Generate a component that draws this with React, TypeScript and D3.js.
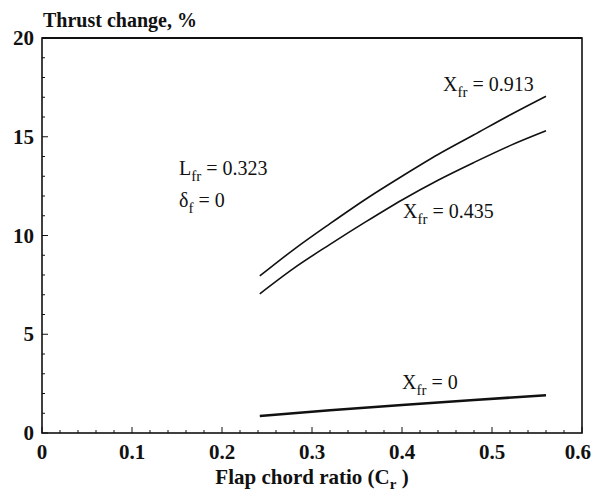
import React from "react";
import * as d3 from "d3";

const upperX = [0.242, 0.28, 0.32, 0.36, 0.40, 0.44, 0.48, 0.52, 0.56];
const upperY = [7.95, 9.3, 10.6, 11.85, 13.0, 14.1, 15.1, 16.1, 17.05];
const middleX = [0.242, 0.28, 0.32, 0.36, 0.40, 0.44, 0.48, 0.52, 0.56];
const middleY = [7.05, 8.35, 9.55, 10.7, 11.8, 12.8, 13.7, 14.55, 15.3];
const lowerX = [0.242, 0.32, 0.40, 0.48, 0.56];
const lowerY = [0.86, 1.15, 1.42, 1.67, 1.91];
const xTicks = [0, 0.1, 0.2, 0.3, 0.4, 0.5, 0.6];
const yTicks = [0, 5, 10, 15, 20];

const W = 593, H = 498;
const left = 42, right = 582, top = 38, bottom = 433;

export default function App() {
  const x = d3.scaleLinear().domain([0, 0.6]).range([left, right]);
  const y = d3.scaleLinear().domain([0, 20]).range([bottom, top]);
  const line = d3.line<[number, number]>().x(d => x(d[0])).y(d => y(d[1])).curve(d3.curveMonotoneX);
  const mk = (xs: number[], ys: number[]) => xs.map((v, i) => [v, ys[i]] as [number, number]);
  const xMinor = d3.range(0, 61, 2).map(v => v / 100);
  const yMinor = d3.range(0, 21, 1);
  const serif = "'Liberation Serif', 'Times New Roman', serif";
  const ann = 20, sub = 15;
  return (
    <svg width={W} height={H} style={{ position: "absolute", left: 0, top: 0, background: "#fff" }} fontFamily={serif}>
      <rect x={0} y={0} width={W} height={H} fill="#fff" />
      <rect x={left} y={top} width={right - left} height={bottom - top} fill="none" stroke="#111" strokeWidth={1.6} />
      <line x1={left} x2={right} y1={top} y2={top} stroke="#111" strokeWidth={2} />
      {xMinor.map((v, i) => (
        <line key={"xm" + i} x1={x(v)} x2={x(v)} y1={bottom} y2={bottom - (i % 5 === 0 ? 6 : 3)} stroke="#111" strokeWidth={1} />
      ))}
      {yMinor.map((v, i) => (
        <line key={"ym" + i} x1={left} x2={left + (i % 5 === 0 ? 6 : 3)} y1={y(v)} y2={y(v)} stroke="#111" strokeWidth={1} />
      ))}
      {xTicks.map((v, i) => {
        const last = i === xTicks.length - 1;
        return (
          <text key={"xt" + v} x={last ? W - 2 : x(v)} y={459} textAnchor={last ? "end" : "middle"} fontWeight="bold" fontSize={21} fill="#111">{v === 0 ? "0" : v.toFixed(1)}</text>
        );
      })}
      {yTicks.map(v => (
        <text key={"yt" + v} x={34} y={y(v) + 7} textAnchor="end" fontWeight="bold" fontSize={21} fill="#111">{v}</text>
      ))}
      <text x={43} y={27} fontWeight="bold" fontSize={20} fill="#111">Thrust change, %</text>
      <text x={312} y={484} textAnchor="middle" fontWeight="bold" fontSize={21} fill="#111">
        Flap chord ratio (C<tspan fontSize={15} dy={5}>r</tspan><tspan dy={-5}> )</tspan>
      </text>
      <path d={line(mk(upperX, upperY)) || ""} fill="none" stroke="#111" strokeWidth={1.6} />
      <path d={line(mk(middleX, middleY)) || ""} fill="none" stroke="#111" strokeWidth={1.6} />
      <path d={line(mk(lowerX, lowerY)) || ""} fill="none" stroke="#111" strokeWidth={2.6} />
      <text x={443} y={91} fontSize={ann} fill="#111">X<tspan fontSize={sub} dy={6}>fr</tspan><tspan dy={-6}> = 0.913</tspan></text>
      <text x={403} y={218} fontSize={ann} fill="#111">X<tspan fontSize={sub} dy={6}>fr</tspan><tspan dy={-6}> = 0.435</tspan></text>
      <text x={179} y={175} fontSize={ann} fill="#111">L<tspan fontSize={sub} dy={6}>fr</tspan><tspan dy={-6}> = 0.323</tspan></text>
      <text x={179} y={207} fontSize={ann} fill="#111">δ<tspan fontSize={sub} dy={6}>f</tspan><tspan dy={-6}> = 0</tspan></text>
      <text x={402} y={389} fontSize={ann} fill="#111">X<tspan fontSize={sub} dy={6}>fr</tspan><tspan dy={-6}> = 0</tspan></text>
    </svg>
  );
}
